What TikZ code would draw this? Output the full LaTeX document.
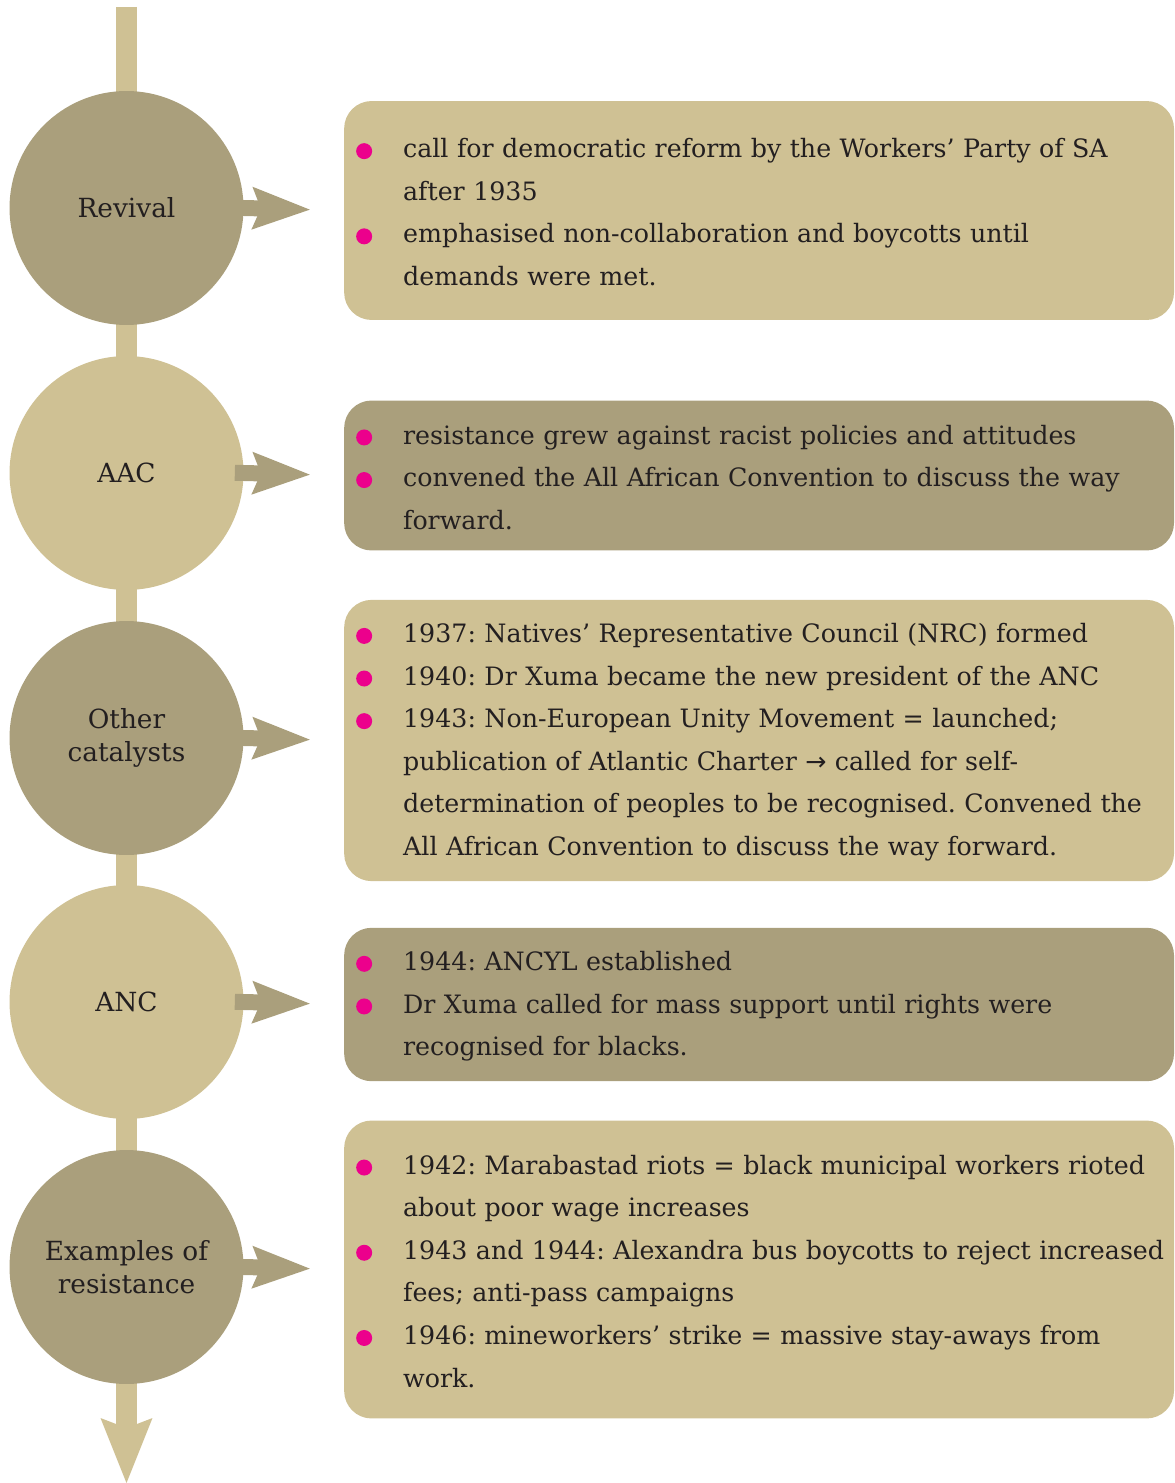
\documentclass[tikz,border=0pt]{standalone}
\usepackage{fontspec}
\setmainfont{DejaVu Serif}
\newfontfamily\symfont{DejaVu Sans}
\usepackage{tikz}
\usetikzlibrary{arrows.meta,positioning}
\definecolor{tanlight}{HTML}{CFC194}
\definecolor{tandark}{HTML}{AA9F7C}
\definecolor{dotpink}{HTML}{EC008C}
\definecolor{inkgray}{HTML}{231F20}

\newcommand{\pinkdot}{\tikz[baseline=-0.5ex]\fill[dotpink] (0,0) circle (0.16cm);}
\newcommand{\bitem}{\par\hangindent=0.94cm\hangafter=1\noindent\makebox[0.94cm][l]{\pinkdot}}
\newcommand{\bend}{\par\vspace{0.4cm}}
\frenchspacing

\begin{document}
\begin{tikzpicture}[x=0.02cm, y=-0.02cm,
  circ/.style={circle, minimum size=4.68cm, inner sep=0pt, align=center, text=inkgray,
    font=\fontsize{15}{18.8}\selectfont},
  infobox/.style={rounded corners=0.55cm, text width=16.12cm, inner xsep=0.24cm, inner ysep=0pt,
    align=left, text=inkgray, font=\fontsize{14.4}{24.25}\selectfont, yshift=-0.05cm},
  pointer/.style={tandark, line width=0.32cm,
    -{Stealth[length=1.16cm, width=0.86cm, inset=0.18cm, line width=0pt]},
    shorten <=-0.18cm, shorten >=0.68cm}]

\useasboundingbox (0,0) rectangle (1174,1483);

% Time line
\coordinate (top) at (126.5,7);
\coordinate (bottom) at (126.5,1483);
\draw[tanlight, line width=0.42cm,
  -{Stealth[length=1.3cm, width=1.04cm, inset=0.2cm, line width=0pt]}] (top) -- (bottom);

% Stages
\node[circ, fill=tandark]  (rev) at (126.5,208)  {Revival};
\node[circ, fill=tanlight] (aac) at (126.5,473)  {AAC};
\node[circ, fill=tandark]  (oth) at (126.5,738)  {Other\\catalysts};
\node[circ, fill=tanlight] (anc) at (126.5,1002) {ANC};
\node[circ, fill=tandark]  (exa) at (126.5,1267) {Examples of\\resistance};

% Details
\node[infobox, fill=tanlight, minimum height=4.38cm, right=2cm of rev] (revbox) {%
  \bitem call for democratic reform by the Workers’ Party of SA\newline after 1935
  \bitem emphasised non-collaboration and boycotts until\newline demands were met.\bend};
\node[infobox, fill=tandark, minimum height=3cm, right=2cm of aac] (aacbox) {%
  \bitem resistance grew against racist policies and attitudes
  \bitem convened the All African Convention to discuss the way\newline forward.\bend};
\node[infobox, fill=tanlight, minimum height=5.6cm, right=2cm of oth] (othbox) {%
  \bitem 1937: Natives’ Representative Council (NRC) formed
  \bitem 1940: Dr Xuma became the new president of the ANC
  \bitem 1943: Non-European Unity Movement = launched;\newline publication of Atlantic Charter {\symfont →} called for self-\newline
  \mbox{determination of peoples to be recognised. Convened the}\newline All African Convention to discuss the way forward.\bend};
\node[infobox, fill=tandark, minimum height=3cm, right=2cm of anc] (ancbox) {%
  \bitem 1944: ANCYL established
  \bitem Dr Xuma called for mass support until rights were\newline recognised for blacks.\bend};
\node[infobox, fill=tanlight, minimum height=5.96cm, right=2cm of exa] (exabox) {%
  \bitem \mbox{1942: Marabastad riots = black municipal workers rioted}\newline about poor wage increases
  \bitem \mbox{1943 and 1944: Alexandra bus boycotts to reject increased}\newline fees; anti-pass campaigns
  \bitem 1946: mineworkers’ strike = massive stay-aways from\newline work.\bend};

% Pointers
\draw[pointer] (rev.east) -- (revbox.west);
\draw[pointer] (aac.east) -- (aacbox.west);
\draw[pointer] (oth.east) -- (othbox.west);
\draw[pointer] (anc.east) -- (ancbox.west);
\draw[pointer] (exa.east) -- (exabox.west);
\end{tikzpicture}
\end{document}
